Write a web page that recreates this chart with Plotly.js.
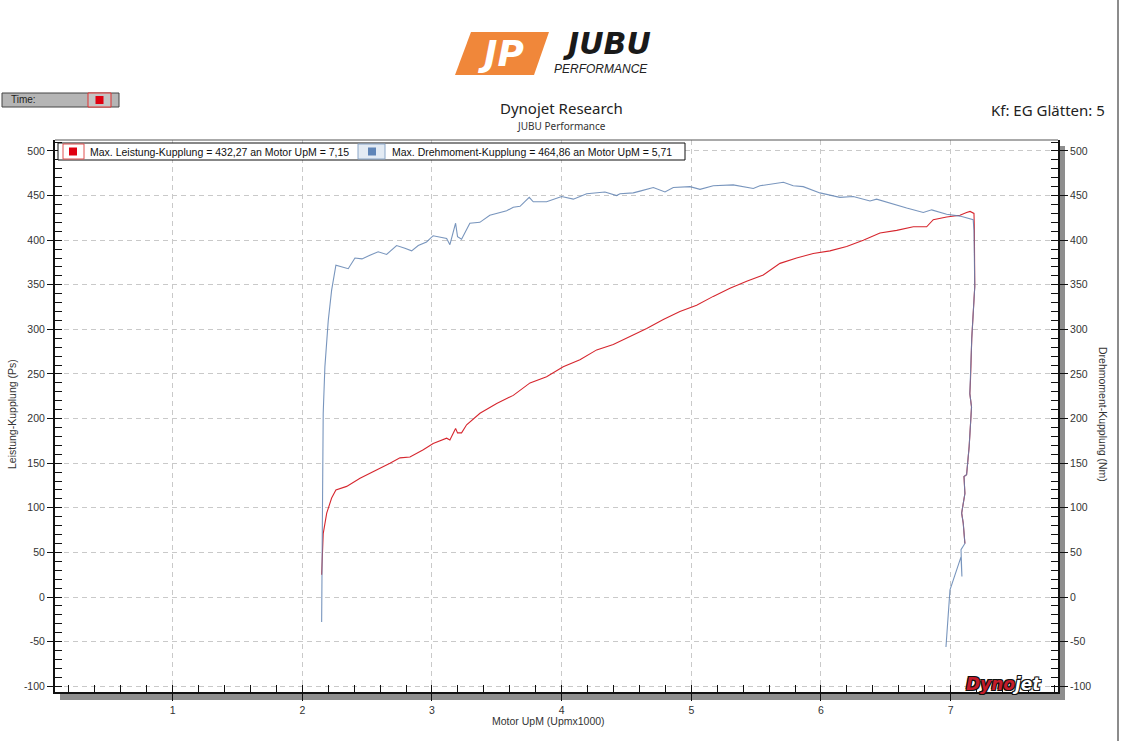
<!DOCTYPE html>
<html>
<head>
<meta charset="utf-8">
<script src="https://cdn.plot.ly/plotly-3.0.1.min.js"></script>
<style>
  html, body { margin: 0; padding: 0; background: #fff; }
  #plot { width: 1123px; height: 741px; }
</style>
</head>
<body>
<div id="plot"></div>
<script>
/* Dynojet Leistung / Drehmoment Diagramm */

// Leistung-Kupplung (Ps) ueber Motor UpM (x1000)
let rpmLeistung = [2.149, 2.154, 2.161, 2.188, 2.226, 2.259, 2.342, 2.445, 2.573, 2.676,
  2.753, 2.830, 2.933, 3.009, 3.113, 3.138, 3.182, 3.197, 3.228, 3.267,
  3.370, 3.499, 3.627, 3.756, 3.884, 4.012, 4.141, 4.270, 4.398, 4.527,
  4.656, 4.784, 4.912, 5.041, 5.169, 5.298, 5.427, 5.555, 5.684, 5.812,
  5.940, 6.069, 6.198, 6.326, 6.455, 6.584, 6.712, 6.815, 6.866, 6.969,
  7.072, 7.123, 7.150, 7.180, 7.183, 7.186, 7.163, 7.153, 7.148, 7.161,
  7.143, 7.123, 7.103, 7.110, 7.085, 7.097, 7.110];
let leistung = [25, 41, 71, 94, 111, 120, 124, 133, 142, 150,
  156, 157, 165, 172, 178, 176, 189, 184, 184, 193,
  206, 217, 226, 240, 247, 258, 266, 277, 283, 292,
  301, 311, 320, 327, 337, 346, 354, 361, 374, 380,
  385, 388, 393, 400, 408, 411, 415, 415, 423, 426,
  428, 431, 432.27, 430, 411, 348, 290, 243, 228, 213,
  169, 137, 135, 116, 94, 83, 60];

// Drehmoment-Kupplung (Nm) ueber Motor UpM (x1000)
let rpmDrehmoment = [2.149, 2.151, 2.154, 2.161, 2.174, 2.200, 2.226, 2.259, 2.354, 2.406,
  2.460, 2.521, 2.585, 2.650, 2.727, 2.791, 2.843, 2.894, 2.958, 3.009,
  3.113, 3.138, 3.163, 3.182, 3.197, 3.228, 3.292, 3.369, 3.446, 3.524,
  3.576, 3.627, 3.679, 3.750, 3.781, 3.884, 4.000, 4.090, 4.193, 4.334,
  4.424, 4.450, 4.552, 4.604, 4.707, 4.797, 4.861, 4.990, 5.067, 5.169,
  5.323, 5.478, 5.529, 5.710, 5.786, 5.863, 5.992, 6.146, 6.249, 6.378,
  6.429, 6.661, 6.789, 6.854, 6.969, 7.072, 7.174, 7.180, 7.186, 7.163,
  7.153, 7.148, 7.161, 7.143, 7.123, 7.103, 7.110, 7.085, 7.097, 7.110,
  7.080, 7.087, 7.080, 6.995, 6.964];
let drehmoment = [-28, -5, 72, 206, 258, 310, 344, 372, 368, 380,
  379, 383, 387, 384, 394, 391, 388, 394, 398, 405,
  402, 395, 408, 419, 404, 401, 419, 420, 428, 431,
  433, 437, 438, 448, 443, 443, 449, 446, 452, 454,
  450, 452, 453, 455, 459, 454, 459, 460, 457, 461,
  462, 458, 461, 464.86, 461, 460, 453, 448, 449, 444,
  446, 436, 431, 434, 429, 427, 423, 411, 348, 290,
  243, 228, 213, 169, 137, 135, 116, 94, 83, 60,
  53, 23, 45, 8, -56];

let xTickVals = [1, 2, 3, 4, 5, 6, 7];
let xTickText = ['1', '2', '3', '4', '5', '6', '7'];
let yTickVals = [-100, -50, 0, 50, 100, 150, 200, 250, 300, 350, 400, 450, 500];
let yTickText = ['-100', '-50', '0', '50', '100', '150', '200', '250', '300', '350', '400', '450', '500'];

let titleText = 'Dynojet Research';
let subtitleText = 'JUBU Performance';
let smoothingText = 'Kf: EG Glätten: 5';
let xTitle = 'Motor UpM (Upmx1000)';
let yTitle = 'Leistung-Kupplung (Ps)';
let y2Title = 'Drehmoment-Kupplung (Nm)';

let redColor = 'rgb(214, 38, 46)';
let blueColor = 'rgb(96, 130, 178)';
let textFont = 'Liberation Sans, Arial, sans-serif';

// plot area in pixels
let plotLeft = 55, plotRight = 1058, plotTop = 140, plotBottom = 692;

function px(x) {
  return (x - plotLeft) / (plotRight - plotLeft);
}

function py(y) {
  return (plotBottom - y) / (plotBottom - plotTop);
}

function formatDe(value) {
  return value.toFixed(2).replace('.', ',');
}

function maxInfo(xs, ys) {
  let best = 0;
  for (let i = 1; i < ys.length; i++) {
    if (ys[i] > ys[best]) best = i;
  }
  return { value: ys[best], rpm: xs[best] };
}

let maxP = maxInfo(rpmLeistung, leistung);
let maxT = maxInfo(rpmDrehmoment, drehmoment);

let data = [
  {
    x: rpmLeistung,
    y: leistung,
    mode: 'lines',
    line: { color: redColor, width: 1.1 },
    hoverinfo: 'skip'
  },
  {
    x: rpmDrehmoment,
    y: drehmoment,
    yaxis: 'y2',
    mode: 'lines',
    opacity: 0.85,
    line: { color: blueColor, width: 1.1 },
    hoverinfo: 'skip'
  }
];

let yRange = [-106.5, 512.3];

let layout = {
  width: 1123,
  height: 741,
  paper_bgcolor: '#ffffff',
  plot_bgcolor: '#ffffff',
  showlegend: false,
  margin: { l: 55, r: 65, t: 140, b: 49 },
  font: { family: textFont, size: 10.5, color: '#333' },
  xaxis: {
    range: [0.0925, 7.828],
    tickmode: 'array',
    tickvals: xTickVals,
    ticktext: xTickText,
    ticks: 'outside',
    ticklen: 7,
    tickcolor: '#111',
    tickwidth: 1,
    showline: true,
    linecolor: '#111',
    linewidth: 2,
    showgrid: true,
    gridcolor: '#c9c9c9',
    griddash: '5px,4px',
    gridwidth: 1,
    zeroline: false,
    minor: { dtick: 0.2, tick0: 0, ticks: 'inside', ticklen: 7, tickcolor: '#111', showgrid: false },
    tickfont: { family: textFont, size: 10.5, color: '#333' }
  },
  yaxis: {
    range: yRange,
    tickmode: 'array',
    tickvals: yTickVals,
    ticktext: yTickText,
    ticks: 'outside',
    ticklen: 6,
    tickcolor: '#111',
    showline: true,
    linecolor: '#111',
    linewidth: 2,
    showgrid: true,
    gridcolor: '#c9c9c9',
    griddash: '5px,4px',
    gridwidth: 1,
    zeroline: false,
    minor: { dtick: 10, tick0: 0, ticks: 'inside', ticklen: 7, tickcolor: '#111', showgrid: false },
    tickfont: { family: textFont, size: 10.5, color: '#333' }
  },
  yaxis2: {
    range: yRange,
    overlaying: 'y',
    side: 'right',
    anchor: 'x',
    tickmode: 'array',
    tickvals: yTickVals,
    ticktext: yTickText,
    ticks: 'outside',
    ticklen: 8,
    tickcolor: '#111',
    showline: true,
    linecolor: '#111',
    linewidth: 2,
    showgrid: false,
    zeroline: false,
    minor: { dtick: 10, tick0: 0, ticks: 'inside', ticklen: 7, tickcolor: '#111', showgrid: false },
    tickfont: { family: textFont, size: 10.5, color: '#333' }
  },
  shapes: [
    // top border of plot area
    { type: 'line', xref: 'paper', yref: 'paper', x0: 0, x1: 1, y0: 1, y1: 1,
      line: { color: '#555', width: 1 } },
    // 3d shadow under bottom axis and right of right axis
    { type: 'rect', xref: 'paper', yref: 'paper', layer: 'below',
      x0: px(60), x1: px(1065), y0: py(700), y1: py(693),
      fillcolor: '#8e8e8e', line: { width: 0 } },
    { type: 'rect', xref: 'paper', yref: 'paper', layer: 'below',
      x0: px(1059), x1: px(1065), y0: py(700), y1: py(146),
      fillcolor: '#8e8e8e', line: { width: 0 } },
    // outer frame line on the right
    { type: 'line', xref: 'paper', yref: 'paper', x0: px(1118), x1: px(1118), y0: py(0), y1: py(741),
      line: { color: '#666', width: 1.5 } },
    // Time box
    { type: 'rect', xref: 'paper', yref: 'paper', x0: px(2), x1: px(119), y0: py(107), y1: py(93),
      fillcolor: '#b5b5b5', line: { color: '#444', width: 1 } },
    { type: 'rect', xref: 'paper', yref: 'paper', x0: px(88), x1: px(111), y0: py(107), y1: py(93),
      fillcolor: '#c4c4c4', line: { color: '#e03030', width: 1 } },
    { type: 'rect', xref: 'paper', yref: 'paper', x0: px(95.5), x1: px(103.5), y0: py(104), y1: py(96),
      fillcolor: '#e00010', line: { width: 0 } },
    // legend box
    { type: 'rect', xref: 'paper', yref: 'paper', layer: 'above', x0: px(58), x1: px(685), y0: py(160), y1: py(143),
      fillcolor: '#ffffff', line: { color: '#111', width: 1 } },
    { type: 'rect', xref: 'paper', yref: 'paper', layer: 'above', x0: px(63), x1: px(84), y0: py(159), y1: py(144),
      fillcolor: '#ffffff', line: { color: '#e05050', width: 1 } },
    { type: 'rect', xref: 'paper', yref: 'paper', layer: 'above', x0: px(69), x1: px(77), y0: py(155.5), y1: py(147.5),
      fillcolor: '#e00010', line: { width: 0 } },
    { type: 'rect', xref: 'paper', yref: 'paper', layer: 'above', x0: px(358), x1: px(385), y0: py(159), y1: py(144),
      fillcolor: '#e3ebf4', line: { color: '#8aa6c8', width: 1 } },
    { type: 'rect', xref: 'paper', yref: 'paper', layer: 'above', x0: px(368), x1: px(376), y0: py(155.5), y1: py(147.5),
      fillcolor: '#5f85b8', line: { width: 0 } },
    // JUBU logo plate
    { type: 'path', xref: 'paper', yref: 'paper',
      path: 'M ' + px(471) + ',' + py(32) + ' L ' + px(549) + ',' + py(32) + ' L ' + px(534) + ',' + py(75) +
        ' L ' + px(455) + ',' + py(75) + ' Z',
      fillcolor: '#f0873a', line: { width: 0 } }
  ],
  annotations: [
    { text: titleText, xref: 'paper', yref: 'paper', x: px(561), y: py(108), xanchor: 'center', yanchor: 'middle',
      showarrow: false, font: { family: 'Noto Sans, sans-serif', size: 15, color: '#222' } },
    { text: subtitleText, xref: 'paper', yref: 'paper', x: px(561), y: py(126), xanchor: 'center', yanchor: 'middle',
      showarrow: false, font: { family: 'Noto Sans, sans-serif', size: 10, color: '#333' } },
    { text: smoothingText, xref: 'paper', yref: 'paper', x: px(1107), y: py(110), xanchor: 'right', yanchor: 'middle',
      showarrow: false, font: { family: 'Noto Sans, sans-serif', size: 15, color: '#222' } },
    { text: 'Time:', xref: 'paper', yref: 'paper', x: px(9), y: py(100), xanchor: 'left', yanchor: 'middle',
      showarrow: false, font: { family: textFont, size: 10, color: '#222' } },
    { text: 'Max. Leistung-Kupplung = ' + formatDe(maxP.value) + ' an Motor UpM = ' + formatDe(maxP.rpm),
      xref: 'paper', yref: 'paper', x: px(88), y: py(151.5), xanchor: 'left', yanchor: 'middle',
      showarrow: false, font: { family: textFont, size: 10.5, color: '#111' } },
    { text: 'Max. Drehmoment-Kupplung = ' + formatDe(maxT.value) + ' an Motor UpM = ' + formatDe(maxT.rpm),
      xref: 'paper', yref: 'paper', x: px(390), y: py(151.5), xanchor: 'left', yanchor: 'middle',
      showarrow: false, font: { family: textFont, size: 10.5, color: '#111' } },
    { text: xTitle, xref: 'paper', yref: 'paper', x: px(548), y: py(721), xanchor: 'center', yanchor: 'middle',
      showarrow: false, font: { family: textFont, size: 10.5, color: '#333' } },
    { text: yTitle, xref: 'paper', yref: 'paper', x: px(12), y: py(414), xanchor: 'center', yanchor: 'middle',
      textangle: -90, showarrow: false, font: { family: textFont, size: 10.5, color: '#333' } },
    { text: y2Title, xref: 'paper', yref: 'paper', x: px(1103), y: py(414), xanchor: 'center', yanchor: 'middle',
      textangle: 90, showarrow: false, font: { family: textFont, size: 10.5, color: '#333' } },
    // JUBU logo
    { text: '<b><i>JP</i></b>', xref: 'paper', yref: 'paper', x: px(501), y: py(54), xanchor: 'center', yanchor: 'middle',
      showarrow: false, font: { family: 'DejaVu Sans, sans-serif', size: 36, color: '#ffffff' } },
    { text: '<b><i>JUBU</i></b>', xref: 'paper', yref: 'paper', x: px(607), y: py(44), xanchor: 'center', yanchor: 'middle',
      showarrow: false, font: { family: 'DejaVu Sans, sans-serif', size: 30, color: '#1a1a1a' } },
    { text: '<i>PERFORMANCE</i>', xref: 'paper', yref: 'paper', x: px(601), y: py(68.5), xanchor: 'center', yanchor: 'middle',
      showarrow: false, font: { family: textFont, size: 12, color: '#222' } },
    // Dynojet logo
    { text: '<b><i><span style="color:#c41c2a">Dyno</span><span style="color:#ffffff">jet</span></i></b>',
      xref: 'paper', yref: 'paper', x: px(1003), y: py(684), xanchor: 'center', yanchor: 'middle',
      showarrow: false,
      font: { family: 'DejaVu Sans, sans-serif', size: 17, color: '#c41c2a',
        shadow: '1px 1px 0 #111, -1px -1px 0 #111, 1px -1px 0 #111, -1px 1px 0 #111' } }
  ]
};

let options = {
  staticPlot: true
};

Plotly.newPlot('plot', data, layout, options);
</script>
</body>
</html>
